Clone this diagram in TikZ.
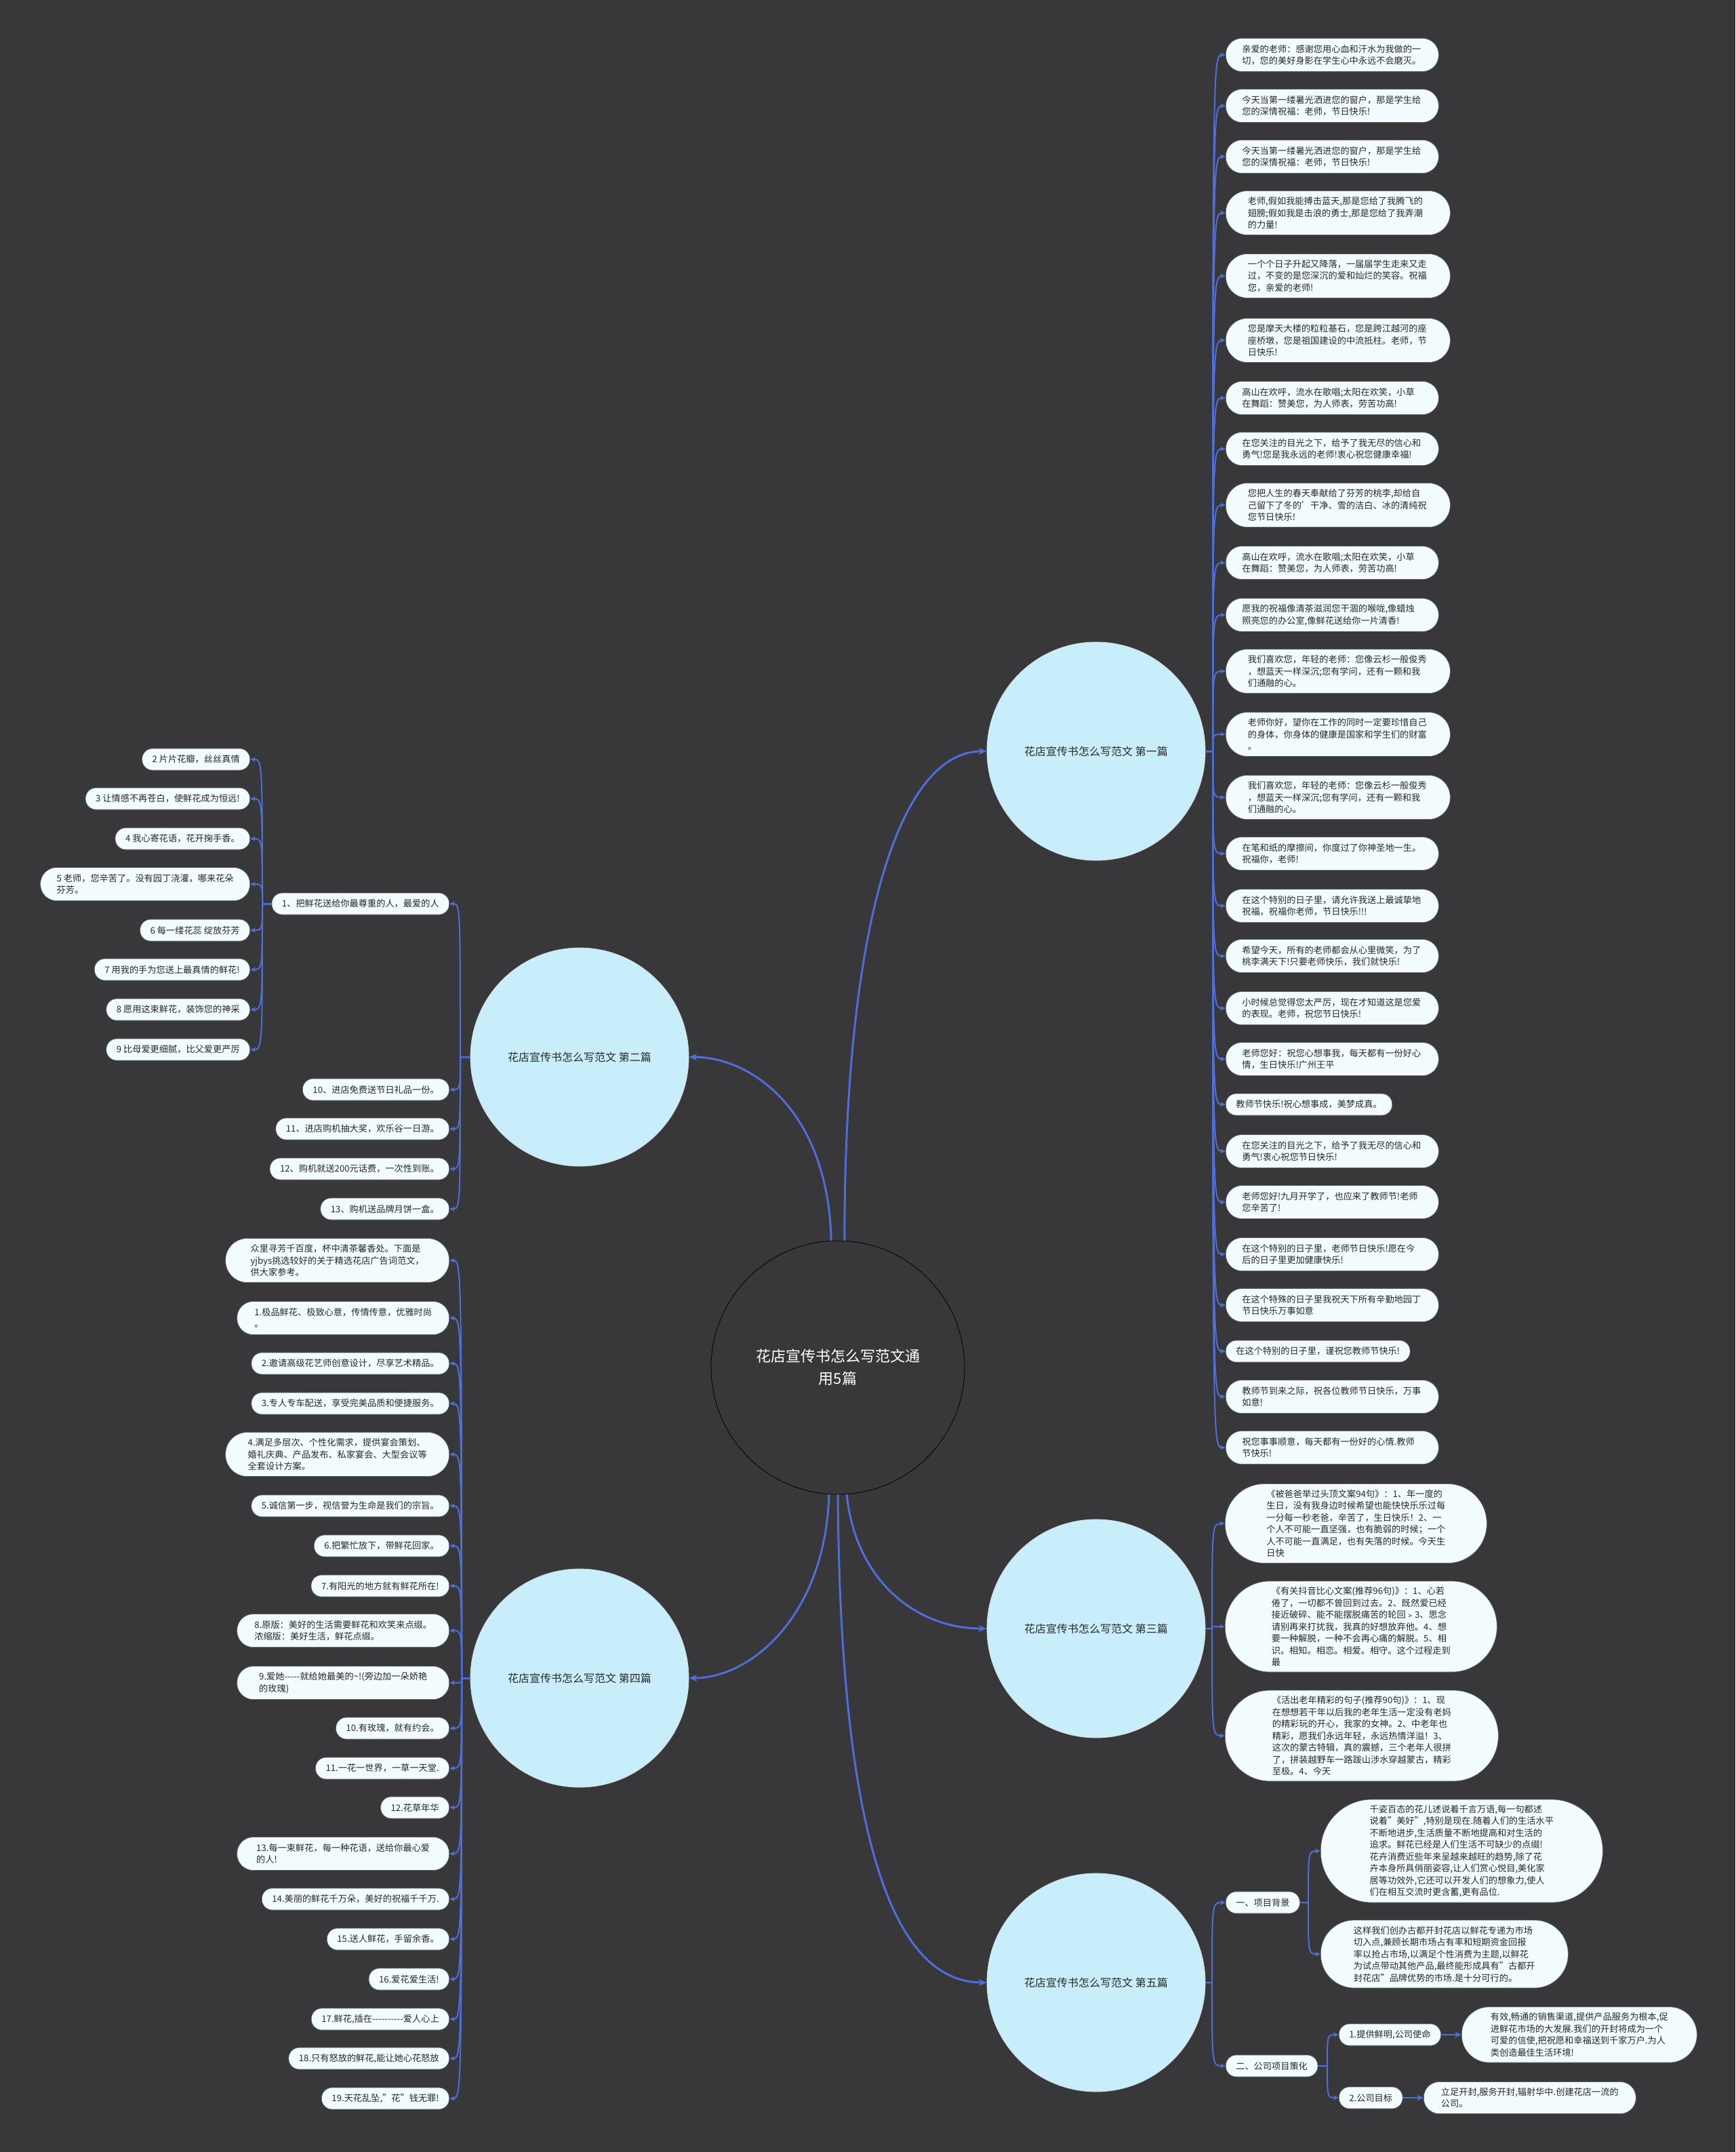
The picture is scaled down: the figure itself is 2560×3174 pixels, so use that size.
\documentclass[tikz,border=0pt]{standalone}
\usepackage{fontspec}
\setmainfont{Noto Sans CJK SC}
\usetikzlibrary{arrows.meta,calc}
\definecolor{bgc}{RGB}{56,55,57}
\definecolor{linec}{RGB}{80,110,216}
\definecolor{leafc}{RGB}{242,251,254}
\definecolor{circc}{RGB}{200,238,252}
\definecolor{txtc}{RGB}{40,40,40}
\newcommand\lf{\fontsize{13.2}{17.5}\selectfont}
\newcommand\secf{\fontsize{16}{20}\selectfont}
\newcommand\cenf{\fontsize{22}{33}\selectfont}
\begin{document}
\begin{tikzpicture}[x=1pt,y=-1pt,
  leaf/.style={fill=leafc, draw=black!60, line width=0.6pt, text=txtc, align=left, font=\lf, inner xsep=15pt, inner ysep=0pt},
  L1/.style={leaf, minimum height=32pt, rounded corners=15.5pt},
  L2/.style={leaf, minimum height=49pt, rounded corners=24pt, inner xsep=24pt},
  L3/.style={leaf, minimum height=65pt, rounded corners=32pt, inner xsep=32pt},
  R2/.style={L2, text width=266pt, anchor=west},
  R3/.style={L3, text width=266pt, inner xsep=32.5pt, anchor=west},
  R1/.style={L1, anchor=west},
  BIG/.style 2 args={leaf, minimum width=#1pt, minimum height=#2pt, rounded corners=#2*0.5pt-0.5pt, inner xsep=4pt, anchor=west},
  sec/.style={circle, minimum size=322pt, inner sep=0pt, fill=circc, draw=white!85!black, line width=0.8pt, text=txtc, font=\secf},
  conn/.style={draw=linec, line width=3pt, -{Stealth[length=12pt,width=10pt]}},
  br/.style={draw=linec, line width=2pt, -{Stealth[length=8pt,width=7pt]}},
  brs/.style={draw=linec, line width=2.5pt, -{Stealth[length=10pt,width=9pt]}}
]
\fill[bgc] (0,0) rectangle (2560,3174);
\useasboundingbox (0,0) rectangle (2560,3174);

% center and sections
\node[circle, minimum size=374pt, inner sep=0pt, draw=black, line width=0.8pt, fill=bgc, text=white, font=\cenf, align=center] (c) at (1236,2017) {花店宣传书怎么写范文通\\用5篇};
\node[sec] (s1) at (1617,1108) {花店宣传书怎么写范文 第一篇};
\node[sec] (s2) at (855,1559) {花店宣传书怎么写范文 第二篇};
\node[sec] (s3) at (1617,2402) {花店宣传书怎么写范文 第三篇};
\node[sec] (s4) at (855,2475) {花店宣传书怎么写范文 第四篇};
\node[sec] (s5) at (1617,2924) {花店宣传书怎么写范文 第五篇};

% section 1 leaves
\node[R2] (a1) at (1808,81) {亲爱的老师：感谢您用心血和汗水为我做的一\\切，您的美好身影在学生心中永远不会磨灭。};
\node[R2] (a2) at (1808,156) {今天当第一缕暑光洒进您的窗户，那是学生给\\您的深情祝福：老师，节日快乐!};
\node[R2] (a3) at (1808,231) {今天当第一缕暑光洒进您的窗户，那是学生给\\您的深情祝福：老师，节日快乐!};
\node[R3] (a4) at (1808,314) {老师,假如我能搏击蓝天,那是您给了我腾飞的\\翅膀;假如我是击浪的勇士,那是您给了我弄潮\\的力量!};
\node[R3] (a5) at (1808,407) {一个个日子升起又降落，一届届学生走来又走\\过，不变的是您深沉的爱和灿烂的笑容。祝福\\您，亲爱的老师!};
\node[R3] (a6) at (1808,502) {您是摩天大楼的粒粒基石，您是跨江越河的座\\座桥墩，您是祖国建设的中流抵柱。老师，节\\日快乐!};
\node[R2] (a7) at (1808,587) {高山在欢呼，流水在歌唱;太阳在欢笑，小草\\在舞蹈：赞美您，为人师表，劳苦功高!};
\node[R2] (a8) at (1808,662) {在您关注的目光之下，给予了我无尽的信心和\\勇气!您是我永远的老师!衷心祝您健康幸福!};
\node[R3] (a9) at (1808,745) {您把人生的春天奉献给了芬芳的桃李,却给自\\己留下了冬的'干净、雪的洁白、冰的清纯祝\\您节日快乐!};
\node[R2] (a10) at (1808,830) {高山在欢呼，流水在歌唱;太阳在欢笑，小草\\在舞蹈：赞美您，为人师表，劳苦功高!};
\node[R2] (a11) at (1808,907) {愿我的祝福像清茶滋润您干涸的喉咙,像蜡烛\\照亮您的办公室,像鲜花送给你一片清香!};
\node[R3] (a12) at (1808,990) {我们喜欢您，年轻的老师：您像云杉一般俊秀\\，想蓝天一样深沉;您有学问，还有一颗和我\\们通融的心。};
\node[R3] (a13) at (1808,1083) {老师你好，望你在工作的同时一定要珍惜自己\\的身体，你身体的健康是国家和学生们的财富\\。};
\node[R3] (a14) at (1808,1176) {我们喜欢您，年轻的老师：您像云杉一般俊秀\\，想蓝天一样深沉;您有学问，还有一颗和我\\们通融的心。};
\node[R2] (a15) at (1808,1259) {在笔和纸的摩擦间，你度过了你神圣地一生。\\祝福你，老师!};
\node[R2] (a16) at (1808,1336) {在这个特别的日子里，请允许我送上最诚挚地\\祝福，祝福你老师，节日快乐!!!};
\node[R2] (a17) at (1808,1410) {希望今天，所有的老师都会从心里微笑，为了\\桃李满天下!只要老师快乐，我们就快乐!};
\node[R2] (a18) at (1808,1487) {小时候总觉得您太严厉，现在才知道这是您爱\\的表现。老师，祝您节日快乐!};
\node[R2] (a19) at (1808,1562) {老师您好：祝您心想事我，每天都有一份好心\\情，生日快乐!广州王平};
\node[R1] (a20) at (1808,1629) {教师节快乐!祝心想事成，美梦成真。};
\node[R2] (a21) at (1808,1698) {在您关注的目光之下，给予了我无尽的信心和\\勇气!衷心祝您节日快乐!};
\node[R2] (a22) at (1808,1773) {老师您好!九月开学了，也应来了教师节!老师\\您辛苦了!};
\node[R2] (a23) at (1808,1850) {在这个特别的日子里，老师节日快乐!愿在今\\后的日子里更加健康快乐!};
\node[R2] (a24) at (1808,1925) {在这个特殊的日子里我祝天下所有辛勤地园丁\\节日快乐万事如意};
\node[R1] (a25) at (1808,1993) {在这个特别的日子里，谨祝您教师节快乐!};
\node[R2] (a26) at (1808,2060) {教师节到来之际，祝各位教师节日快乐，万事\\如意!};
\node[R2] (a27) at (1808,2135) {祝您事事顺意，每天都有一份好的心情.教师\\节快乐!};

% section 2
\node[L1, anchor=east] (n1) at (663,1333) {1、把鲜花送给你最尊重的人，最爱的人};
\node[L1, anchor=east] (g2) at (369,1120) {2 片片花瓣，丝丝真情};
\node[L1, anchor=east] (g3) at (369,1178) {3 让情感不再苍白，使鲜花成为恒远!};
\node[L1, anchor=east] (g4) at (369,1237) {4 我心寄花语，花开掬手香。};
\node[L2, anchor=east] (g5) at (369,1304) {5 老师，您辛苦了。没有园丁浇灌，哪来花朵\\芬芳。};
\node[L1, anchor=east] (g6) at (369,1372) {6 每一缕花蕊 绽放芬芳};
\node[L1, anchor=east] (g7) at (369,1430) {7 用我的手为您送上最真情的鲜花!};
\node[L1, anchor=east] (g8) at (369,1489) {8 愿用这束鲜花，装饰您的神采};
\node[L1, anchor=east] (g9) at (369,1548) {9 比母爱更细腻，比父爱更严厉};
\node[L1, anchor=east] (n10) at (663,1607) {10、进店免费送节日礼品一份。};
\node[L1, anchor=east] (n11) at (663,1665) {11、进店购机抽大奖，欢乐谷一日游。};
\node[L1, anchor=east] (n12) at (663,1724) {12、购机就送200元话费，一次性到账。};
\node[L1, anchor=east] (n13) at (663,1783) {13、购机送品牌月饼一盒。};

% section 4
\node[L3, anchor=east, minimum width=330pt] (f0) at (663,1859) {众里寻芳千百度，杯中清茶馨香处。下面是\\yjbys挑选较好的关于精选花店广告词范文，\\供大家参考。};
\node[L2, anchor=east, minimum width=313pt] (f1) at (663,1944) {1.极品鲜花、极致心意，传情传意，优雅时尚\\。};
\node[L1, anchor=east] (f2) at (663,2011) {2.邀请高级花艺师创意设计，尽享艺术精品。};
\node[L1, anchor=east] (f3) at (663,2070) {3.专人专车配送，享受完美品质和便捷服务。};
\node[L3, anchor=east, minimum width=330pt] (f4) at (663,2145) {4.满足多层次、个性化需求，提供宴会策划、\\婚礼庆典、产品发布、私家宴会、大型会议等\\全套设计方案。};
\node[L1, anchor=east] (f5) at (663,2221) {5.诚信第一步，视信誉为生命是我们的宗旨。};
\node[L1, anchor=east] (f6) at (663,2280) {6.把繁忙放下，带鲜花回家。};
\node[L1, anchor=east] (f7) at (663,2339) {7.有阳光的地方就有鲜花所在!};
\node[L2, anchor=east, minimum width=313pt] (f8) at (663,2405) {8.原版：美好的生活需要鲜花和欢笑来点缀。\\浓缩版：美好生活，鲜花点缀。};
\node[L2, anchor=east, minimum width=313pt] (f9) at (663,2482) {9.爱她-{}-{}-{}-{}-就给她最美的\textasciitilde!(旁边加一朵娇艳\\的玫瑰)};
\node[L1, anchor=east] (f10) at (663,2549) {10.有玫瑰，就有约会。};
\node[L1, anchor=east] (f11) at (663,2608) {11.一花一世界，一草一天堂.};
\node[L1, anchor=east] (f12) at (663,2666) {12.花草年华};
\node[L2, anchor=east, minimum width=313pt] (f13) at (663,2734) {13.每一束鲜花，每一种花语，送给你最心爱\\的人!};
\node[L1, anchor=east] (f14) at (663,2801) {14.美丽的鲜花千万朵，美好的祝福千千万.};
\node[L1, anchor=east] (f15) at (663,2860) {15.送人鲜花，手留余香。};
\node[L1, anchor=east] (f16) at (663,2919) {16.爱花爱生活!};
\node[L1, anchor=east] (f17) at (663,2978) {17.鲜花,插在-{}-{}-{}-{}-{}-{}-{}-{}-{}-爱人心上};
\node[L1, anchor=east] (f18) at (663,3036) {18.只有怒放的鲜花,能让她心花怒放};
\node[L1, anchor=east] (f19) at (663,3095) {19.天花乱坠,"花"钱无罪!};

% section 3
\node[BIG={386}{117}] (t1) at (1807,2247) {《被爸爸举过头顶文案94句》：1、年一度的\\生日，没有我身边时候希望也能快快乐乐过每\\一分每一秒老爸，辛苦了，生日快乐！2、一\\个人不可能一直坚强，也有脆弱的时候；一个\\人不可能一直满足，也有失落的时候。今天生\\日快};
\node[BIG={401}{134}] (t2) at (1807,2399) {《有关抖音比心文案(推荐96句)》：1、心若\\倦了，一切都不曾回到过去。2、既然爱已经\\接近破碎、能不能摆脱痛苦的轮回﹥3、思念\\请别再来打扰我，我真的好想放弃他。4、想\\要一种解脱，一种不会再心痛的解脱。5、相\\识。相知。相恋。相爱。相守。这个过程走到\\最};
\node[BIG={403}{134}] (t3) at (1807,2560) {《活出老年精彩的句子(推荐90句)》：1、现\\在想想若干年以后我的老年生活一定没有老妈\\的精彩玩的开心，我家的女神。2、中老年也\\精彩，愿我们永远年轻，永远热情洋溢！3、\\这次的蒙古特辑，真的震撼，三个老年人很拼\\了，拼装越野车一路跋山涉水穿越蒙古，精彩\\至极。4、今天};

% section 5
\node[R1] (u1) at (1808,2806) {一、项目背景};
\node[R1] (u2) at (1808,3047) {二、公司项目策化};
\node[BIG={416}{152}] (v1) at (1948,2730) {千姿百态的花儿述说着千言万语,每一句都述\\说着"美好",特别是现在.随着人们的生活水平\\不断地进步,生活质量不断地提高和对生活的\\追求。鲜花已经是人们生活不可缺少的点缀!\\花卉消费近些年来呈越来越旺的趋势,除了花\\卉本身所具俏丽姿容,让人们赏心悦目,美化家\\居等功效外,它还可以开发人们的想象力,使人\\们在相互交流时更含蓄,更有品位.};
\node[BIG={365}{100}] (v2) at (1948,2882) {这样我们创办古都开封花店以鲜花专递为市场\\切入点,兼顾长期市场占有率和短期资金回报\\率以抢占市场,以满足个性消费为主题,以鲜花\\为试点带动其他产品,最终能形成具有"古都开\\封花店"品牌优势的市场.是十分可行的。};
\node[R1] (w1) at (1975,3001) {1.提供鲜明,公司使命};
\node[R1] (w2) at (1975,3094) {2.公司目标};
\node[BIG={347}{82}] (x1) at (2156,3001) {有效,畅通的销售渠道,提供产品服务为根本,促\\进鲜花市场的大发展.我们的开封将成为一个\\可爱的信使,把祝愿和幸福送到千家万户.为人\\类创造最佳生活环境!};
\node[BIG={313}{47}] (x2) at (2100,3094) {立足开封,服务开封,辐射华中.创建花店一流的\\公司。};

% spine coordinates
\coordinate (sp1) at (1789,1108);
\coordinate (sp2) at (679,1559);
\coordinate (sp2a) at (387,1333);
\coordinate (sp3) at (1788,2402);
\coordinate (sp4) at (681,2475);
\coordinate (sp5) at (1788,2924);
\coordinate (sp5a) at (1930,2806);
\coordinate (sp5b) at (1958,3047);

% main connectors
\draw[conn] (c.87) .. controls (1246,1350) and (1330,1108) .. (s1.west);
\draw[conn] (c.93) .. controls (1222,1640) and (1110,1559) .. (s2.east);
\draw[conn] (c.274) .. controls (1262,2330) and (1350,2402) .. (s3.west);
\draw[conn] (c.266) .. controls (1218,2380) and (1110,2475) .. (s4.east);
\draw[conn] (c.270) .. controls (1240,2750) and (1330,2924) .. (s5.west);

% branches
\foreach \i in {1,...,27} {\draw[br] (s1.east) -- (sp1) .. controls (sp1 |- a\i.west) .. (a\i.west);}
\foreach \n in {n1,n10,n11,n12,n13} {\draw[br] (s2.west) -- (sp2) .. controls (sp2 |- \n.east) .. (\n.east);}
\foreach \i in {2,...,9} {\draw[br] (n1.west) -- (sp2a) .. controls (sp2a |- g\i.east) .. (g\i.east);}
\foreach \i in {1,2,3} {\draw[br] (s3.east) -- (sp3) .. controls (sp3 |- t\i.west) .. (t\i.west);}
\foreach \i in {0,...,19} {\draw[br] (s4.west) -- (sp4) .. controls (sp4 |- f\i.east) .. (f\i.east);}
\foreach \n in {u1,u2} {\draw[br] (s5.east) -- (sp5) .. controls (sp5 |- \n.west) .. (\n.west);}
\foreach \n in {v1,v2} {\draw[br] (u1.east) -- (sp5a) .. controls (sp5a |- \n.west) .. (\n.west);}
\foreach \n in {w1,w2} {\draw[br] (u2.east) -- (sp5b) .. controls (sp5b |- \n.west) .. (\n.west);}
\draw[brs] (w1.east) -- (x1.west);
\draw[brs] (w2.east) -- (x2.west);
\end{tikzpicture}
\end{document}
